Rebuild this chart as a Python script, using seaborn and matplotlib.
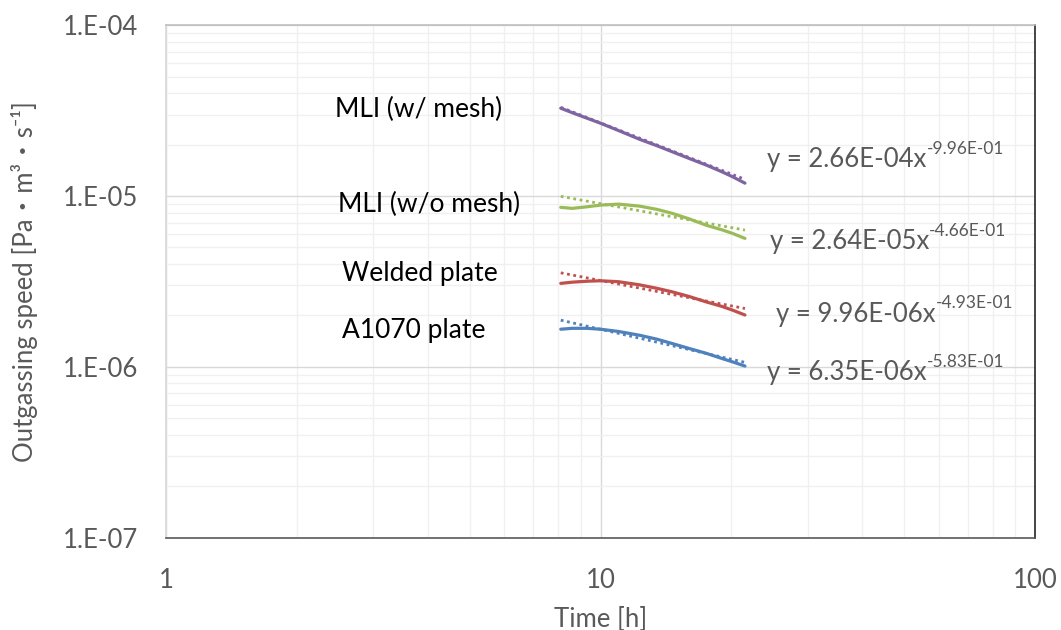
import numpy as np
import pandas as pd
import matplotlib
matplotlib.use("Agg")
import matplotlib.pyplot as plt
import seaborn as sns
from matplotlib.ticker import FixedLocator, FixedFormatter, LogLocator, NullFormatter

# ========== DATOS ==========
time_h = [8.1, 8.6, 9.3, 10.0, 11.0, 12.3, 13.5, 14.6, 16.0, 17.5, 19.0, 20.1, 21.5]

mli_mesh = [3.27e-5, 3.08e-5, 2.86e-5, 2.67e-5, 2.42e-5, 2.15e-5, 1.97e-5, 1.82e-5,
            1.66e-5, 1.52e-5, 1.39e-5, 1.30e-5, 1.19e-5]
mli_nomesh = [8.59e-6, 8.47e-6, 8.65e-6, 8.85e-6, 8.97e-6, 8.73e-6, 8.35e-6, 7.93e-6,
              7.35e-6, 6.75e-6, 6.35e-6, 6.05e-6, 5.65e-6]
welded = [3.08e-6, 3.13e-6, 3.17e-6, 3.19e-6, 3.15e-6, 3.02e-6, 2.88e-6, 2.75e-6,
          2.58e-6, 2.40e-6, 2.26e-6, 2.15e-6, 2.01e-6]
a1070 = [1.66e-6, 1.68e-6, 1.68e-6, 1.66e-6, 1.61e-6, 1.53e-6, 1.45e-6, 1.37e-6,
         1.28e-6, 1.20e-6, 1.12e-6, 1.07e-6, 1.01e-6]

series_names = ["MLI (w/ mesh)", "MLI (w/o mesh)", "Welded plate", "A1070 plate"]
series_colors = ["#8064A2", "#9BBB59", "#C0504D", "#4F81BD"]

# coeficientes de las líneas de tendencia y = a * x^b
trend_a = [2.66e-4, 2.64e-5, 9.96e-6, 6.35e-6]
trend_b = [-0.996, -0.466, -0.493, -0.583]
trend_a_txt = ["2.66E-04", "2.64E-05", "9.96E-06", "6.35E-06"]
trend_b_txt = ["-9.96E-01", "-4.66E-01", "-4.93E-01", "-5.83E-01"]

x_ticks = [1, 10, 100]
x_ticklabels = ["1", "10", "100"]
y_ticks = [1e-7, 1e-6, 1e-5, 1e-4]
y_ticklabels = ["1.E-07", "1.E-06", "1.E-05", "1.E-04"]

# ========== TABLAS ==========
values = [mli_mesh, mli_nomesh, welded, a1070]
df = pd.DataFrame({
    "Time": np.tile(time_h, 4),
    "Speed": np.concatenate(values),
    "Sample": np.repeat(series_names, len(time_h)),
})
t = np.array(time_h)
df_trend = pd.DataFrame({
    "Time": np.tile(t, 4),
    "Speed": np.concatenate([a * t ** b for a, b in zip(trend_a, trend_b)]),
    "Sample": np.repeat(series_names, len(t)),
})

# ========== GRAFICA ==========
sns.set_style("white")
plt.rcParams["font.family"] = ["Lato", "Noto Sans CJK JP", "DejaVu Sans"]

fig = plt.figure(figsize=(10.61, 6.30), dpi=100)
ax = fig.add_axes([0.1565, 0.1468, 0.819, 0.8130])
palette = dict(zip(series_names, series_colors))

sns.lineplot(data=df, x="Time", y="Speed", hue="Sample", palette=palette,
             linewidth=2.3, legend=False, ax=ax)
sns.lineplot(data=df_trend, x="Time", y="Speed", hue="Sample", palette=palette,
             linewidth=2.0, linestyle=(0, (1, 1.3)), legend=False, ax=ax)

ax.set_xscale("log")
ax.set_yscale("log")
ax.set_xlim(1, 100)
ax.set_ylim(1e-7, 1e-4)

ax.xaxis.set_major_locator(FixedLocator(x_ticks))
ax.xaxis.set_major_formatter(FixedFormatter(x_ticklabels))
ax.yaxis.set_major_locator(FixedLocator(y_ticks))
ax.yaxis.set_major_formatter(FixedFormatter(y_ticklabels))
ax.xaxis.set_minor_locator(LogLocator(base=10, subs=np.arange(2, 10)))
ax.yaxis.set_minor_locator(LogLocator(base=10, subs=np.arange(2, 10)))
ax.xaxis.set_minor_formatter(NullFormatter())
ax.yaxis.set_minor_formatter(NullFormatter())

ax.grid(True, which="major", color="#d9d9d9", linewidth=1.0)
ax.grid(True, which="minor", color="#f0f0f0", linewidth=1.0)
ax.set_axisbelow(True)

ax.tick_params(axis="both", which="both", length=0, labelsize=18.5, labelcolor="#595959")
ax.tick_params(axis="y", pad=20)
ax.tick_params(axis="x", pad=22)

ax.spines["left"].set_color("#d9d9d9")
ax.spines["top"].set_color("#bfbfbf")
ax.spines["right"].set_color("#262626")
ax.spines["bottom"].set_color("#595959")
for s in ax.spines.values():
    s.set_linewidth(1.2)

ax.set_xlabel("Time [h]", fontsize=18.5, color="#595959", labelpad=10)
ax.set_ylabel("Outgassing speed [Pa・m³・s⁻¹]", fontsize=18.5, color="#595959", labelpad=18)

# etiquetas de las series
label_pos = [(0.1945, 0.835), (0.198, 0.651), (0.2025, 0.516), (0.2025, 0.405)]
for name, (px, py) in zip(series_names, label_pos):
    ax.text(px, py, name, transform=ax.transAxes, fontsize=19, color="black",
            ha="left", va="center")

# ecuaciones de tendencia (exponente como texto aparte)
eq_pos = [(0.6916, 0.7232), (0.695, 0.5632), (0.7019, 0.4213), (0.6916, 0.3075)]
for a_txt, b_txt, (px, py) in zip(trend_a_txt, trend_b_txt, eq_pos):
    base = ax.text(px, py, "y = " + a_txt + "x", transform=ax.transAxes,
                   fontsize=18.5, color="#595959", ha="left", va="baseline")
    ax.annotate(b_txt, xy=(1.0, 0.62), xycoords=base, fontsize=12.5,
                color="#595959", ha="left", va="bottom")

fig.savefig("out.png", dpi=100)
